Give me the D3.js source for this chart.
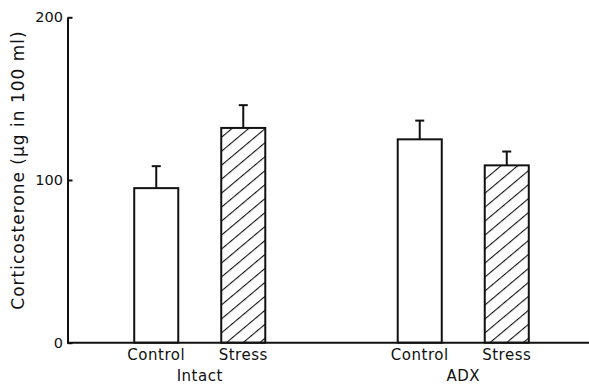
<!DOCTYPE html>
<html>
<head>
<meta charset="utf-8">
<script src="https://cdn.jsdelivr.net/npm/d3@7"></script>
<style>
	body { margin: 0; background: #fff; }
	text { font-family: "DejaVu Sans", sans-serif; fill: #111; }
</style>
</head>
<body>
<svg id="chart" width="589" height="388"></svg>
<script>
var groups = ["Intact", "ADX"];
var conditions = ["Control", "Stress"];
// mean and SE per group, in order of conditions
var means = { Intact: [95, 132], ADX: [125, 109] };
var errors = { Intact: [13.5, 14], ADX: [11.5, 8.5] };
var yTicks = [0, 100, 200];

var svg = d3.select("#chart");

var y = d3.scaleLinear()
	.domain([0, 200])
	.range([342.7, 17.3]);

var x0 = d3.scaleBand()
	.domain(groups)
	.range([68, 595])
	.padding(0);

var x1 = d3.scaleBand()
	.domain(conditions)
	.range([0, x0.bandwidth()])
	.paddingInner(0.494)
	.paddingOuter(0.761);

// hatch for stress bars
svg.append("defs")
	.append("pattern")
	.attr("id", "hatch")
	.attr("patternUnits", "userSpaceOnUse")
	.attr("width", 10.7)
	.attr("height", 10.7)
	.attr("patternTransform", "rotate(50)")
	.append("line")
	.attr("x1", 0).attr("y1", 0)
	.attr("x2", 0).attr("y2", 10.7)
	.style("stroke", "#111")
	.style("stroke-width", 2.2);

var data = [];
groups.forEach(function(g) {
	conditions.forEach(function(c, i) {
		data.push({ group: g, cond: c, value: means[g][i], err: errors[g][i] });
	});
});

var bars = svg.selectAll(".bar")
	.data(data)
	.enter()
	.append("g")
	.attr("class", "bar")
	.attr("transform", function(d) {
		return "translate(" + x0(d.group) + ",0)";
	});

// error bars first so the bar outline sits over the stem
bars.append("line")
	.attr("x1", function(d) { return x1(d.cond) + x1.bandwidth() / 2 })
	.attr("x2", function(d) { return x1(d.cond) + x1.bandwidth() / 2 })
	.attr("y1", function(d) { return y(d.value) })
	.attr("y2", function(d) { return y(d.value + d.err) })
	.style("stroke", "#111")
	.style("stroke-width", 2);

bars.append("line")
	.attr("x1", function(d) { return x1(d.cond) + x1.bandwidth() / 2 - 4.5 })
	.attr("x2", function(d) { return x1(d.cond) + x1.bandwidth() / 2 + 4.5 })
	.attr("y1", function(d) { return y(d.value + d.err) })
	.attr("y2", function(d) { return y(d.value + d.err) })
	.style("stroke", "#111")
	.style("stroke-width", 2);

bars.append("rect")
	.attr("x", function(d) { return x1(d.cond) })
	.attr("width", x1.bandwidth())
	.attr("y", function(d) { return y(d.value) })
	.attr("height", function(d) { return y(0) - y(d.value) })
	.style("fill", function(d) { return d.cond == "Stress" ? "url(#hatch)" : "#fff" })
	.style("stroke", "#111")
	.style("stroke-width", 2);

// y axis
var yAxis = d3.axisLeft(y)
	.tickValues(yTicks)
	.tickSizeInner(-5)
	.tickSizeOuter(0)
	.tickPadding(4.5);

var yg = svg.append("g")
	.attr("transform", "translate(" + (x0.range()[0] - 0.5) + ",0)")
	.call(yAxis);
yg.select(".domain").style("stroke", "#111").style("stroke-width", 2);
yg.selectAll(".tick line").style("stroke", "#111").style("stroke-width", 2);
yg.selectAll(".tick text")
	.style("font-family", "'DejaVu Sans', sans-serif")
	.style("font-size", "14.5px")
	.style("fill", "#111");

// x axis baseline
svg.append("line")
	.attr("x1", x0.range()[0] - 1)
	.attr("x2", 589)
	.attr("y1", y(0))
	.attr("y2", y(0))
	.style("stroke", "#111")
	.style("stroke-width", 2);

// category labels
bars.append("text")
	.attr("x", function(d) { return x1(d.cond) + x1.bandwidth() / 2 })
	.attr("y", y(0) + 17.5)
	.attr("text-anchor", "middle")
	.style("font-size", "15px")
	.style("letter-spacing", "0.5px")
	.text(function(d) { return d.cond });

svg.selectAll(".group-label")
	.data(groups)
	.enter()
	.append("text")
	.attr("class", "group-label")
	.attr("x", function(d) { return x0(d) + x0.bandwidth() / 2 })
	.attr("y", y(0) + 38.5)
	.attr("text-anchor", "middle")
	.style("font-size", "15px")
	.style("letter-spacing", "0.5px")
	.text(function(d) { return d });

svg.append("text")
	.attr("transform", "translate(24," + ((y(0) + y(200)) / 2 - 10) + ") rotate(-90)")
	.attr("text-anchor", "middle")
	.style("font-size", "17px")
	.style("letter-spacing", "1px")
	.text("Corticosterone (\u00b5g in 100 ml)");
</script>
</body>
</html>
